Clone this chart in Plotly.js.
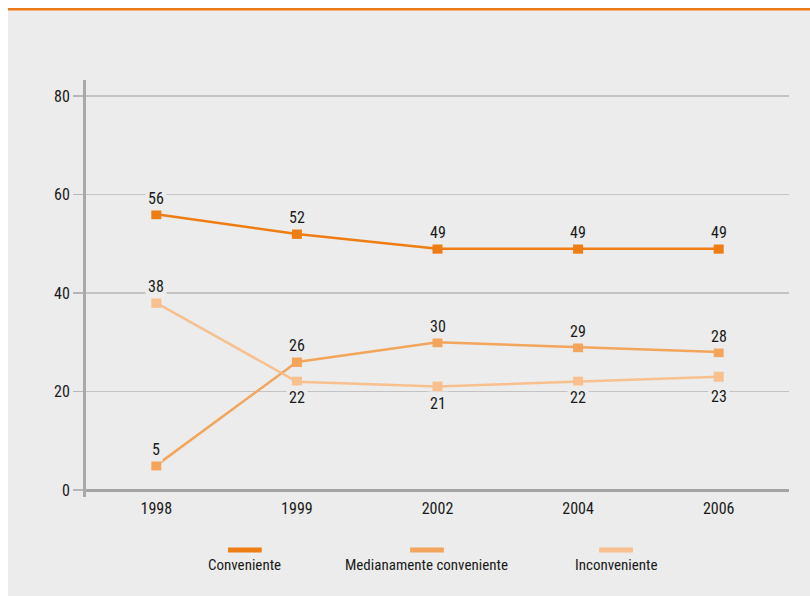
<!DOCTYPE html>
<html>
<head>
<meta charset="utf-8">
<script src="https://cdn.plot.ly/plotly-3.0.1.min.js"></script>
<style>
  html, body { margin: 0; padding: 0; background: #ffffff; width: 810px; height: 596px; overflow: hidden; }
  #bar { position: absolute; left: 8px; top: 8px; width: 802px; height: 2px; background: #ee7a16; }
  #bar2 { position: absolute; left: 8px; top: 10px; width: 802px; height: 1px; background: #f4b07a; }
  #chart { position: absolute; left: 8px; top: 11px; width: 802px; height: 585px; }
</style>
</head>
<body>
<div id="bar"></div>
<div id="bar2"></div>
<div id="chart"></div>
<script>
const years = ['1998', '1999', '2002', '2004', '2006'];
const seriesNames = ['Conveniente', 'Medianamente conveniente', 'Inconveniente'];
const conveniente = [56, 52, 49, 49, 49];
const medianamente = [5, 26, 30, 29, 28];
const inconveniente = [38, 22, 21, 22, 23];
const colors = ['#ee7d14', '#f4a55c', '#f8c08e'];
const yTicks = [0, 20, 40, 60, 80];

// label offsets in pixels (style, not data)
const labelShift = [
  [16, 16, 16, 16, 16],
  [16, 16, 16, 16, 16],
  [16, -16, -17, -16, -20]
];

const FONT = '"Liberation Sans Narrow", "Arial Narrow", "Roboto Condensed", "Liberation Sans", Arial, sans-serif';
const BG = '#ebeceb';

const allSeries = [conveniente, medianamente, inconveniente];
const traces = allSeries.map((vals, i) => ({
  type: 'scatter',
  mode: 'lines+markers',
  name: seriesNames[i],
  x: years,
  y: vals,
  line: { color: colors[i], width: 2.5 },
  marker: { color: colors[i], size: 10, symbol: 'square' },
  showlegend: false,
  cliponaxis: false
}));

const annotations = [];
allSeries.forEach((vals, i) => {
  vals.forEach((v, j) => {
    annotations.push({
      x: j, y: v, xref: 'x', yref: 'y',   // category index of years[j]
      text: String(v), showarrow: false,
      yshift: labelShift[i][j],
      bgcolor: BG, borderpad: 2,
      font: { family: FONT, size: 16, color: '#1a1a1a' }
    });
  });
});

// custom legend: line above label
const legendX = [0.226, 0.485, 0.754];
const shapes = [];
seriesNames.forEach((n, i) => {
  annotations.push({
    x: legendX[i], y: -0.163, xref: 'paper', yref: 'paper',
    text: n, showarrow: false, xanchor: 'center', yanchor: 'middle',
    font: { family: FONT, size: 15, color: '#1a1a1a' }
  });
  shapes.push({
    type: 'line', xref: 'paper', yref: 'paper',
    x0: legendX[i] - 0.024, x1: legendX[i] + 0.024, y0: -0.127, y1: -0.127,
    line: { color: colors[i], width: 5 }
  });
});

const layout = {
  width: 802, height: 585,
  margin: { l: 78, r: 21, t: 69, b: 99 },
  paper_bgcolor: BG,
  plot_bgcolor: BG,
  font: { family: FONT, size: 15, color: '#1a1a1a' },
  xaxis: {
    type: 'category',
    range: [-0.5, 4.5],
    showgrid: false,
    showline: false,
    zeroline: false,
    ticks: '',
    ticklabelstandoff: 0,
    tickfont: { family: FONT, size: 16, color: '#1a1a1a' },
    fixedrange: true
  },
  yaxis: {
    range: [-1.42, 83.25],
    tickvals: yTicks,
    showgrid: true,
    gridcolor: '#c2c3c2',
    gridwidth: 1.5,
    zeroline: true,
    zerolinecolor: '#a3a4a3',
    zerolinewidth: 3,
    showline: true,
    linecolor: '#a8a9a8',
    linewidth: 3,
    ticks: 'outside',
    ticklen: 10,
    tickcolor: '#b5b6b5',
    tickwidth: 1.5,
    tickfont: { family: FONT, size: 16, color: '#1a1a1a' },
    fixedrange: true
  },
  annotations: annotations,
  shapes: shapes,
  showlegend: false
};

Plotly.newPlot('chart', traces, layout, { displayModeBar: false, staticPlot: true });
</script>
</body>
</html>
